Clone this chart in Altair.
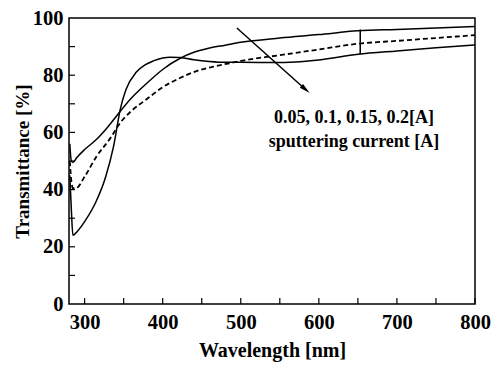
import altair as alt
import pandas as pd

# Curve readings (wavelength nm, transmittance %)
wl_a = [281, 283, 285, 290, 300, 315, 327, 337, 346, 353, 366, 378, 388, 400, 409, 422, 440, 460, 480, 500, 550, 580, 600, 650, 700, 750, 800]
t_a  = [45, 33, 24, 25.2, 28.8, 36, 44.5, 55, 68.5, 75, 81, 83.7, 85, 86, 86.3, 86.2, 85.4, 84.8, 84.5, 84.5, 84.4, 84.8, 85.3, 87.3, 88.5, 89.6, 90.6]

wl_b = [281, 283, 285, 290, 300, 315, 330, 346, 360, 379, 400, 423, 440, 460, 480, 500, 550, 600, 650, 700, 750, 800]
t_b  = [56, 50, 49.5, 51.2, 54, 57.5, 62, 67.5, 72, 77, 82, 86, 88, 89.5, 90.5, 91.5, 93, 94.2, 95.5, 96, 96.5, 97]

wl_c = [281, 283, 285, 289, 300, 315, 333, 346, 360, 379, 400, 422, 445, 465, 486, 500, 550, 600, 650, 700, 750, 800]
t_c  = [50, 43, 40.5, 40.5, 44.5, 51.5, 58, 63.5, 67.5, 71.5, 75.8, 79, 81.6, 83, 84.2, 85, 87, 89, 91, 92, 93, 94]

x_major = [300, 400, 500, 600, 700, 800]
x_minor = [350, 450, 550, 650, 750]
y_major = [20, 40, 60, 80]
y_minor = [10, 30, 50, 70, 90]

label_lines = ["0.05, 0.1, 0.15, 0.2[A]", "sputtering current [A]"]
label_x = [645, 645]
label_y = [65, 56.5]

arrow_x = [495, 583]
arrow_y = [96.5, 75]

marker_x = [653, 653]
marker_y = [87.3, 96]

W, H = 406, 286
FONT = "Liberation Serif"

xs = alt.Scale(domain=[280, 800], nice=False, zero=False)
ys = alt.Scale(domain=[0, 100], nice=False)

xax = alt.Axis(values=x_major, ticks=False, grid=False, domain=False, labelFont=FONT,
               labelFontWeight="bold", labelFontSize=20.5, labelColor="black", labelPadding=8,
               labelFlush=False, labelOverlap=False,
               title="Wavelength [nm]", titleFont=FONT, titleFontWeight="bold", titleFontSize=20,
               titleColor="black", titlePadding=8)
yax = alt.Axis(values=[0, 20, 40, 60, 80, 100], ticks=False, grid=False, domain=False, labelFont=FONT,
               labelFontWeight="bold", labelFontSize=20.5, labelColor="black", labelPadding=6,
               labelFlush=False, labelOverlap=False,
               title="Transmittance [%]", titleFont=FONT, titleFontWeight="bold", titleFontSize=19,
               titleColor="black", titlePadding=0)

df = pd.concat([
    pd.DataFrame({"wl": wl_a, "t": t_a, "s": "a"}),
    pd.DataFrame({"wl": wl_b, "t": t_b, "s": "b"}),
])
dfc = pd.DataFrame({"wl": wl_c, "t": t_c})

solid = alt.Chart(df).mark_line(color="black", strokeWidth=1.5, interpolate="monotone").encode(
    x=alt.X("wl:Q", scale=xs, axis=xax),
    y=alt.Y("t:Q", scale=ys, axis=yax),
    detail="s:N",
)
dashed = alt.Chart(dfc).mark_line(color="black", strokeWidth=1.8, strokeDash=[5, 3], interpolate="monotone").encode(
    x=alt.X("wl:Q", scale=xs), y=alt.Y("t:Q", scale=ys)
)

tx = pd.DataFrame({"v": x_major + x_minor})
ty = pd.DataFrame({"v": y_major + y_minor})
xticks = alt.Chart(tx).mark_rule(color="black", strokeWidth=1.2).encode(
    x=alt.X("v:Q", scale=xs), y=alt.value(H), y2=alt.value(H - 6)
)
yticks = alt.Chart(ty).mark_rule(color="black", strokeWidth=1.2).encode(
    y=alt.Y("v:Q", scale=ys), x=alt.value(0), x2=alt.value(6)
)

arrow_df = pd.DataFrame({"x": arrow_x, "y": arrow_y})
arrow = alt.Chart(arrow_df).mark_line(color="black", strokeWidth=1.5).encode(
    x=alt.X("x:Q", scale=xs), y=alt.Y("y:Q", scale=ys)
)
head = alt.Chart(arrow_df.iloc[[1]]).mark_point(
    shape="M0,-1L0.45,1L-0.45,1Z", filled=True, color="black", size=120, angle=131, opacity=1
).encode(x=alt.X("x:Q", scale=xs), y=alt.Y("y:Q", scale=ys))

marker_df = pd.DataFrame({"x": marker_x, "y": marker_y})
marker = alt.Chart(marker_df).mark_line(color="black", strokeWidth=1.5).encode(
    x=alt.X("x:Q", scale=xs), y=alt.Y("y:Q", scale=ys)
)

lab_df = pd.DataFrame({"x": label_x, "y": label_y, "txt": label_lines})
labels = alt.Chart(lab_df).mark_text(font=FONT, fontWeight="bold", fontSize=18, color="black").encode(
    x=alt.X("x:Q", scale=xs), y=alt.Y("y:Q", scale=ys), text="txt:N"
)

chart = alt.layer(solid, dashed, xticks, yticks, arrow, head, marker, labels).properties(
    width=W, height=H,
    autosize=alt.AutoSizeParams(type="none"),
    padding={"left": 61, "top": 10, "right": 16, "bottom": 62},
    background="white",
).configure_view(stroke="black", strokeWidth=1.5)

chart.save("out.html", embed_options={"renderer": "svg", "actions": False})
